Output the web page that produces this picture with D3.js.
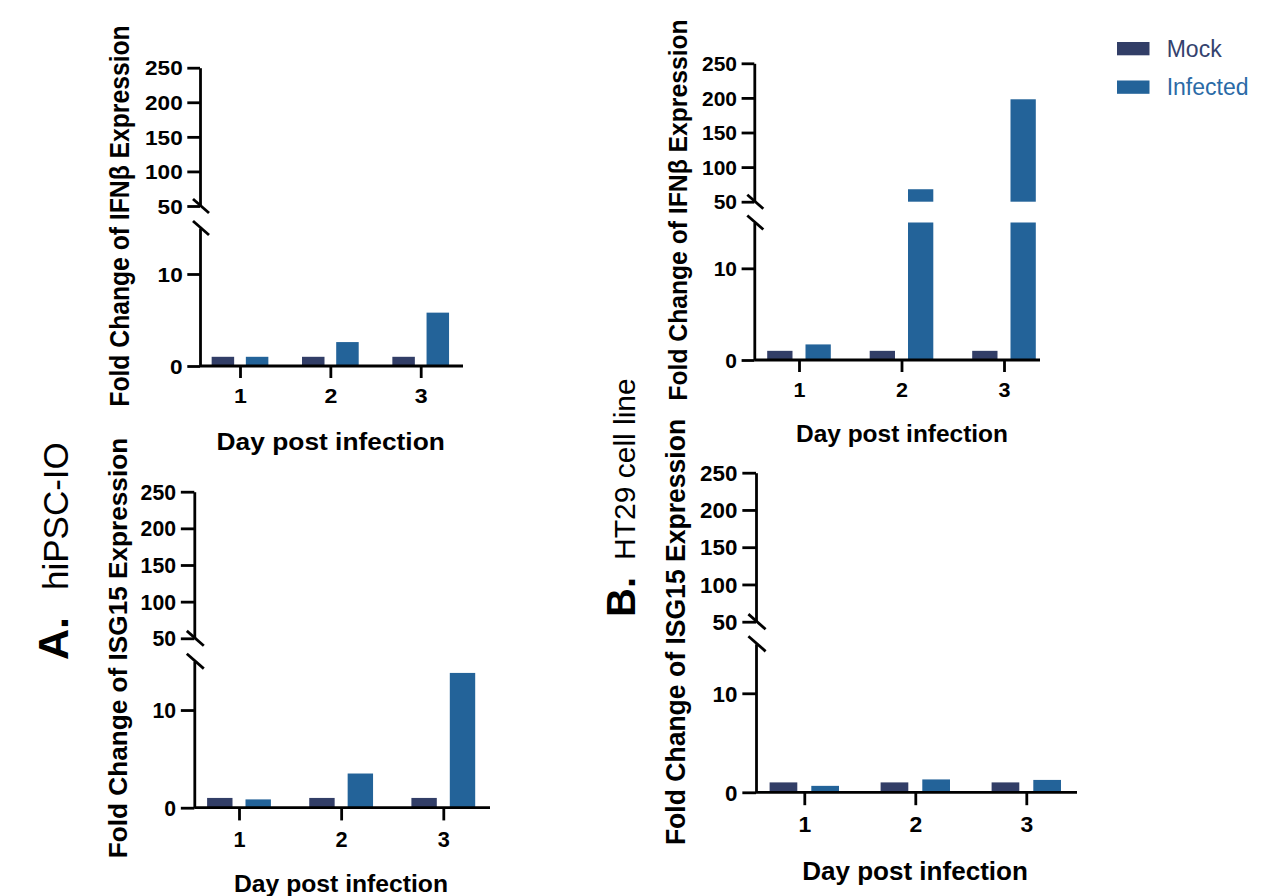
<!DOCTYPE html>
<html lang="en">
<head>
    <meta charset="UTF-8">
    <title>IFNβ and ISG15 fold change</title>
    <script src="https://d3js.org/d3.v7.min.js"></script>
    <style>
        body { margin: 0; background: #fff; }
        svg { display: block; }
        text { font-family: "Liberation Sans", Arial, sans-serif; fill: #000; }
        .axis path, .axis line { stroke: #000; stroke-width: 2.8; }
    </style>
</head>
<body>
    <div id="chart"></div>
    <script>
        // Data
        const days = ["1", "2", "3"];
        const seriesNames = ["Mock", "Infected"];
        const mockIfnA = [1.0, 1.0, 1.0];
        const infIfnA = [1.0, 2.6, 5.8];
        const mockIfnB = [1.0, 1.0, 1.0];
        const infIfnB = [1.7, 68, 198];
        const mockIsgA = [1.0, 1.0, 1.0];
        const infIsgA = [0.85, 3.5, 13.8];
        const mockIsgB = [1.0, 1.0, 1.0];
        const infIsgB = [0.65, 1.3, 1.25];
        const lowTicks = [0, 10];
        const highTicks = [50, 100, 150, 200, 250];
        const lowDomain = [0, 15];
        const highDomain = [50, 250];

        const colors = { Mock: "#323e67", Infected: "#236399" };
        const legendText = { Mock: "#34426e", Infected: "#2a6aa6" };

        // Layout of the four panels (pixel positions only)
        const panels = [
            { mock: mockIfnA, inf: infIfnA, title: "Fold Change of IFNβ Expression",
              ax: 200, y0: 366, yLowTop: 228, yUpBot: 206, yTop: 67.7, xEnd: 463,
              c1: 240, c3: 420.7, bw: 22.5, gap: 11.7, k: 1, sx: 1.13,
              titleX: 129, titleY: 216, xlabX: 330.7, xlabY: 450 },
            { mock: mockIfnB, inf: infIfnB, title: "Fold Change of IFNβ Expression",
              ax: 754.3, y0: 360, yLowTop: 222.5, yUpBot: 201.7, yTop: 63.3, xEnd: 1040,
              c1: 799, c3: 1004, bw: 25.3, gap: 13, k: 1, sx: 1.05,
              titleX: 687, titleY: 210, xlabX: 902, xlabY: 441.7 },
            { mock: mockIsgA, inf: infIsgA, title: "Fold Change of ISG15 Expression",
              ax: 194.3, y0: 807.7, yLowTop: 661.2, yUpBot: 638.3, yTop: 491.7, xEnd: 490,
              c1: 239, c3: 443.3, bw: 25.4, gap: 13, k: 1.06, sx: 1.0,
              titleX: 126.7, titleY: 648, xlabX: 341, xlabY: 892 },
            { mock: mockIsgB, inf: infIsgB, title: "Fold Change of ISG15 Expression",
              ax: 756, y0: 792.3, yLowTop: 643.8, yUpBot: 621.7, yTop: 472.7, xEnd: 1077,
              c1: 804.3, c3: 1026.3, bw: 27.7, gap: 14, k: 1.075, sx: 1.04,
              titleX: 685, titleY: 632, xlabX: 915, xlabY: 880 }
        ];

        const svg = d3.select("#chart")
            .append("svg")
            .attr("width", 1273)
            .attr("height", 896);

        panels.forEach(p => {
            const g = svg.append("g");
            const yLow = d3.scaleLinear().domain(lowDomain).range([p.y0, p.yLowTop]);
            const yHigh = d3.scaleLinear().domain(highDomain).range([p.yUpBot, p.yTop]);
            const x = d3.scalePoint().domain(days).range([p.c1, p.c3]);
            const off = (p.bw + p.gap) / 2;
            const tickLen = 12.7 * p.k;
            const tickFs = 20 * p.k;

            // Bars (split across the axis break when needed)
            seriesNames.forEach((s, si) => {
                const vals = s === "Mock" ? p.mock : p.inf;
                vals.forEach((v, i) => {
                    const cx = x(days[i]) + (si === 0 ? -off : off);
                    const top = v <= lowDomain[1] ? yLow(v) : yLow(lowDomain[1]);
                    g.append("rect")
                        .attr("x", cx - p.bw / 2)
                        .attr("width", p.bw)
                        .attr("y", top)
                        .attr("height", p.y0 - top)
                        .attr("fill", colors[s]);
                    if (v >= highDomain[0]) {
                        g.append("rect")
                            .attr("x", cx - p.bw / 2)
                            .attr("width", p.bw)
                            .attr("y", yHigh(v))
                            .attr("height", p.yUpBot - yHigh(v))
                            .attr("fill", colors[s]);
                    }
                });
            });

            // y axes: lower and upper segments
            [[yLow, lowTicks], [yHigh, highTicks]].forEach(([sc, tv]) => {
                const ax = g.append("g")
                    .attr("class", "axis")
                    .attr("transform", `translate(${p.ax},0)`)
                    .call(d3.axisLeft(sc).tickValues(tv).tickSize(tickLen).tickSizeOuter(0));
                ax.selectAll("text")
                    .attr("x", null)
                    .attr("dy", "0.358em")
                    .attr("transform", `translate(${-tickLen - 4.6 * p.k},0) scale(${p.sx},1)`)
                    .style("font-size", tickFs + "px")
                    .style("font-weight", "bold");
                ax.attr("font-family", null).attr("font-size", null);
            });

            // break marks
            [p.yUpBot, p.yLowTop].forEach(yy => {
                g.append("line")
                    .attr("x1", p.ax + 1 - 8 * p.k).attr("y1", yy - 7 * p.k)
                    .attr("x2", p.ax + 1 + 8 * p.k).attr("y2", yy + 7 * p.k)
                    .attr("stroke", "#000").attr("stroke-width", 2.8);
            });

            // x axis
            g.append("line")
                .attr("x1", p.ax).attr("x2", p.xEnd)
                .attr("y1", p.y0).attr("y2", p.y0)
                .attr("stroke", "#000").attr("stroke-width", 2.8);
            const xa = g.append("g")
                .attr("class", "axis")
                .attr("transform", `translate(0,${p.y0})`)
                .call(d3.axisBottom(x).tickSize(12 * p.k).tickSizeOuter(0));
            xa.select(".domain").remove();
            xa.selectAll("text")
                .attr("y", null)
                .attr("dy", null)
                .attr("transform", `translate(0,${36.7 * p.k}) scale(${p.sx},1)`)
                .style("font-size", (20.5 * p.k) + "px")
                .style("font-weight", "bold");
            xa.attr("font-family", null).attr("font-size", null);

            // axis titles
            g.append("text")
                .attr("transform", `translate(${p.titleX},${p.titleY}) scale(${p.sx},1) rotate(-90)`)
                .attr("text-anchor", "middle")
                .style("font-size", (24.7 * p.k) + "px")
                .style("font-weight", "bold")
                .text(p.title);
            g.append("text")
                .attr("transform", `translate(${p.xlabX},${p.xlabY}) scale(${p.sx},1)`)
                .attr("text-anchor", "middle")
                .style("font-size", (23.3 * p.k) + "px")
                .style("font-weight", "bold")
                .text("Day post infection");
        });

        // Panel labels
        const side = [
            { tag: "A.", name: "hiPSC-IO", x: 68, yTag: 660, yName: 590, fsTag: 43, fsName: 35 },
            { tag: "B.", name: "HT29 cell line", x: 635, yTag: 617, yName: 560, fsTag: 40, fsName: 30 }
        ];
        side.forEach(s => {
            svg.append("text")
                .attr("transform", `translate(${s.x},${s.yTag}) rotate(-90)`)
                .style("font-size", s.fsTag + "px")
                .style("font-weight", "bold")
                .text(s.tag);
            svg.append("text")
                .attr("transform", `translate(${s.x},${s.yName}) rotate(-90)`)
                .style("font-size", s.fsName + "px")
                .text(s.name);
        });

        // Legend
        const legend = svg.append("g").attr("transform", "translate(1117,42)");
        seriesNames.forEach((s, i) => {
            legend.append("rect")
                .attr("x", 0).attr("y", i * 38.5)
                .attr("width", 32.5).attr("height", 13.3)
                .attr("fill", colors[s]);
            legend.append("text")
                .attr("x", 49.7).attr("y", i * 38.5 + 14.7)
                .style("font-size", "23px")
                .style("fill", legendText[s])
                .text(s);
        });
    </script>
</body>
</html>
